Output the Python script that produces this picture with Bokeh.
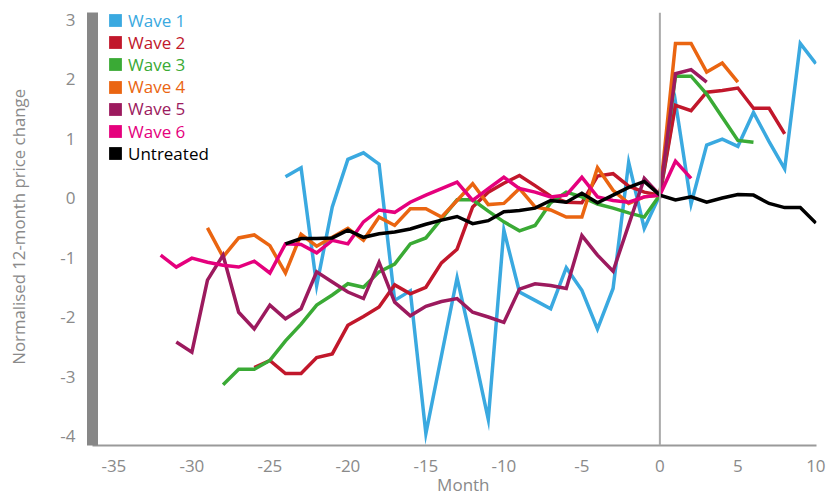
from bokeh.plotting import figure
from bokeh.models import Range1d, Span, Legend, LegendItem, FixedTicker
from bokeh.embed import file_html
from bokeh.resources import INLINE

# ---------------- data ----------------
series_names = ["Wave 1", "Wave 2", "Wave 3", "Wave 4", "Wave 5", "Wave 6", "Untreated"]
series_colors = ["#3aa9e0", "#c1172b", "#3aaa35", "#ea6511", "#9c1a5e", "#e5007d", "#000000"]

months_w1 = list(range(-24, 11))
wave1 = [0.36, 0.51, -1.47, -0.15, 0.65, 0.76, 0.57, -1.72, -1.56, -3.96, -2.65, -1.34,
         -2.5, -3.72, -0.54, -1.58, -1.72, -1.86, -1.17, -1.55, -2.2, -1.52, 0.6, -0.51,
         0.05, 1.61, -0.1, 0.89, 0.99, 0.87, 1.44, 0.95, 0.49, 2.6, 2.26]

months_w2 = list(range(-26, 9))
wave2 = [-2.85, -2.73, -2.95, -2.95, -2.68, -2.62, -2.14, -1.99, -1.83, -1.46, -1.61, -1.5,
         -1.09, -0.86, -0.15, 0.1, 0.25, 0.38, 0.21, 0.03, -0.07, -0.08, 0.37, 0.41, 0.2,
         0.1, 0.05, 1.56, 1.47, 1.78, 1.81, 1.85, 1.51, 1.51, 1.08]

months_w3 = list(range(-28, 7))
wave3 = [-3.14, -2.88, -2.88, -2.73, -2.4, -2.12, -1.8, -1.63, -1.44, -1.5, -1.24, -1.11,
         -0.77, -0.67, -0.35, -0.03, -0.03, -0.22, -0.4, -0.55, -0.46, -0.08, 0.1, 0.02,
         -0.1, -0.17, -0.25, -0.32, 0.05, 2.05, 2.05, 1.75, 1.36, 0.97, 0.94]

months_w4 = list(range(-29, 6))
wave4 = [-0.5, -0.99, -0.67, -0.62, -0.8, -1.26, -0.61, -0.81, -0.66, -0.51, -0.71, -0.32,
         -0.46, -0.18, -0.18, -0.32, -0.04, 0.24, -0.11, -0.09, 0.16, -0.15, -0.2, -0.32,
         -0.32, 0.51, 0.13, -0.09, 0.02, 0.05, 2.6, 2.6, 2.12, 2.27, 1.95]

months_w5 = list(range(-31, 4))
wave5 = [-2.42, -2.59, -1.38, -0.96, -1.92, -2.2, -1.8, -2.03, -1.86, -1.24, -1.41, -1.58,
         -1.69, -1.08, -1.75, -1.98, -1.82, -1.74, -1.69, -1.92, -2.0, -2.09, -1.53, -1.44,
         -1.47, -1.52, -0.63, -0.96, -1.23, -0.45, 0.33, 0.05, 2.09, 2.16, 1.95]

months_w6 = list(range(-32, 3))
wave6 = [-0.96, -1.16, -1.01, -1.08, -1.13, -1.16, -1.06, -1.26, -0.77, -0.78, -0.92, -0.71,
         -0.77, -0.4, -0.2, -0.24, -0.07, 0.05, 0.16, 0.27, -0.04, 0.16, 0.35, 0.16, 0.1,
         0.02, 0.05, 0.35, 0.02, -0.04, -0.07, 0.02, 0.05, 0.62, 0.33]

months_untreated = list(range(-24, 11))
untreated = [-0.77, -0.68, -0.68, -0.67, -0.54, -0.66, -0.6, -0.57, -0.52, -0.44, -0.37, -0.31,
             -0.43, -0.38, -0.23, -0.21, -0.17, -0.04, -0.07, 0.08, -0.08, 0.05, 0.18, 0.28,
             0.05, -0.03, 0.02, -0.07, 0.0, 0.06, 0.05, -0.09, -0.16, -0.16, -0.42]

x_ticks = [-35, -30, -25, -20, -15, -10, -5, 0, 5, 10]
y_ticks = [-4, -3, -2, -1, 0, 1, 2, 3]
x_title = "Month"
y_title = "Normalised 12-month price change"

all_months = [months_w1, months_w2, months_w3, months_w4, months_w5, months_w6, months_untreated]
all_values = [wave1, wave2, wave3, wave4, wave5, wave6, untreated]

FONT = "Open Sans"
GREY = "#8a8a8a"
NBSP = "\u00a0"

p = figure(width=834, height=498, output_backend="svg", toolbar_location=None,
           x_range=Range1d(-36.37, 10.04), y_range=Range1d(-4.16, 3.12),
           min_border_left=92, min_border_right=18, min_border_top=12, min_border_bottom=53)
p.outline_line_color = None
p.grid.visible = False
p.background_fill_color = "white"

# x axis
xa = p.xaxis[0]
xa.ticker = FixedTicker(ticks=x_ticks)
xa.major_label_overrides = {t: str(t) for t in x_ticks}
xa.axis_label = NBSP * 4 + x_title
xa.axis_line_color = "#9a9a9a"
xa.axis_line_width = 2
xa.major_tick_line_color = None
xa.minor_tick_line_color = None
xa.major_label_standoff = 8
xa.axis_label_standoff = -2
xa.major_label_text_font = FONT
xa.major_label_text_font_size = "17px"
xa.major_label_text_color = GREY
xa.axis_label_text_font = FONT
xa.axis_label_text_font_size = "17px"
xa.axis_label_text_font_style = "normal"
xa.axis_label_text_color = GREY

# y axis
ya = p.yaxis[0]
ya.ticker = FixedTicker(ticks=y_ticks)
ya.major_label_overrides = {t: str(t) for t in y_ticks}
ya.axis_label = NBSP + y_title
ya.axis_line_color = "#878787"
ya.axis_line_width = 11
ya.major_tick_line_color = None
ya.minor_tick_line_color = None
ya.major_label_standoff = 11
ya.axis_label_standoff = 27
ya.major_label_text_font = FONT
ya.major_label_text_font_size = "17px"
ya.major_label_text_color = GREY
ya.axis_label_text_font = FONT
ya.axis_label_text_font_size = "16.8px"
ya.axis_label_text_font_style = "normal"
ya.axis_label_text_color = GREY

p.add_layout(Span(location=0, dimension="height", line_color="#aaaaaa", line_width=2))

for m, v, c in zip(all_months, all_values, series_colors):
    p.line(m, v, line_color=c, line_width=3.5, line_join="miter")

# legend: one legend per entry so each label gets its own colour
row0 = 413.5
nan = float("nan")
for i, (name, c) in enumerate(zip(series_names, series_colors)):
    r = p.quad(left=[nan], right=[nan], bottom=[nan], top=[nan], fill_color=c, line_color=None)
    leg = Legend(items=[LegendItem(label=name, renderers=[r])],
                 location=(15, row0 - 22.2 * i),
                 padding=0, margin=0, spacing=0,
                 glyph_width=16, glyph_height=16, label_height=20,
                 label_standoff=5,
                 label_text_font=FONT, label_text_font_size="17px",
                 label_text_color=c, label_text_baseline="middle",
                 border_line_color=None, background_fill_alpha=0)
    p.add_layout(leg)

open("out.html", "w").write(file_html(p, INLINE))
